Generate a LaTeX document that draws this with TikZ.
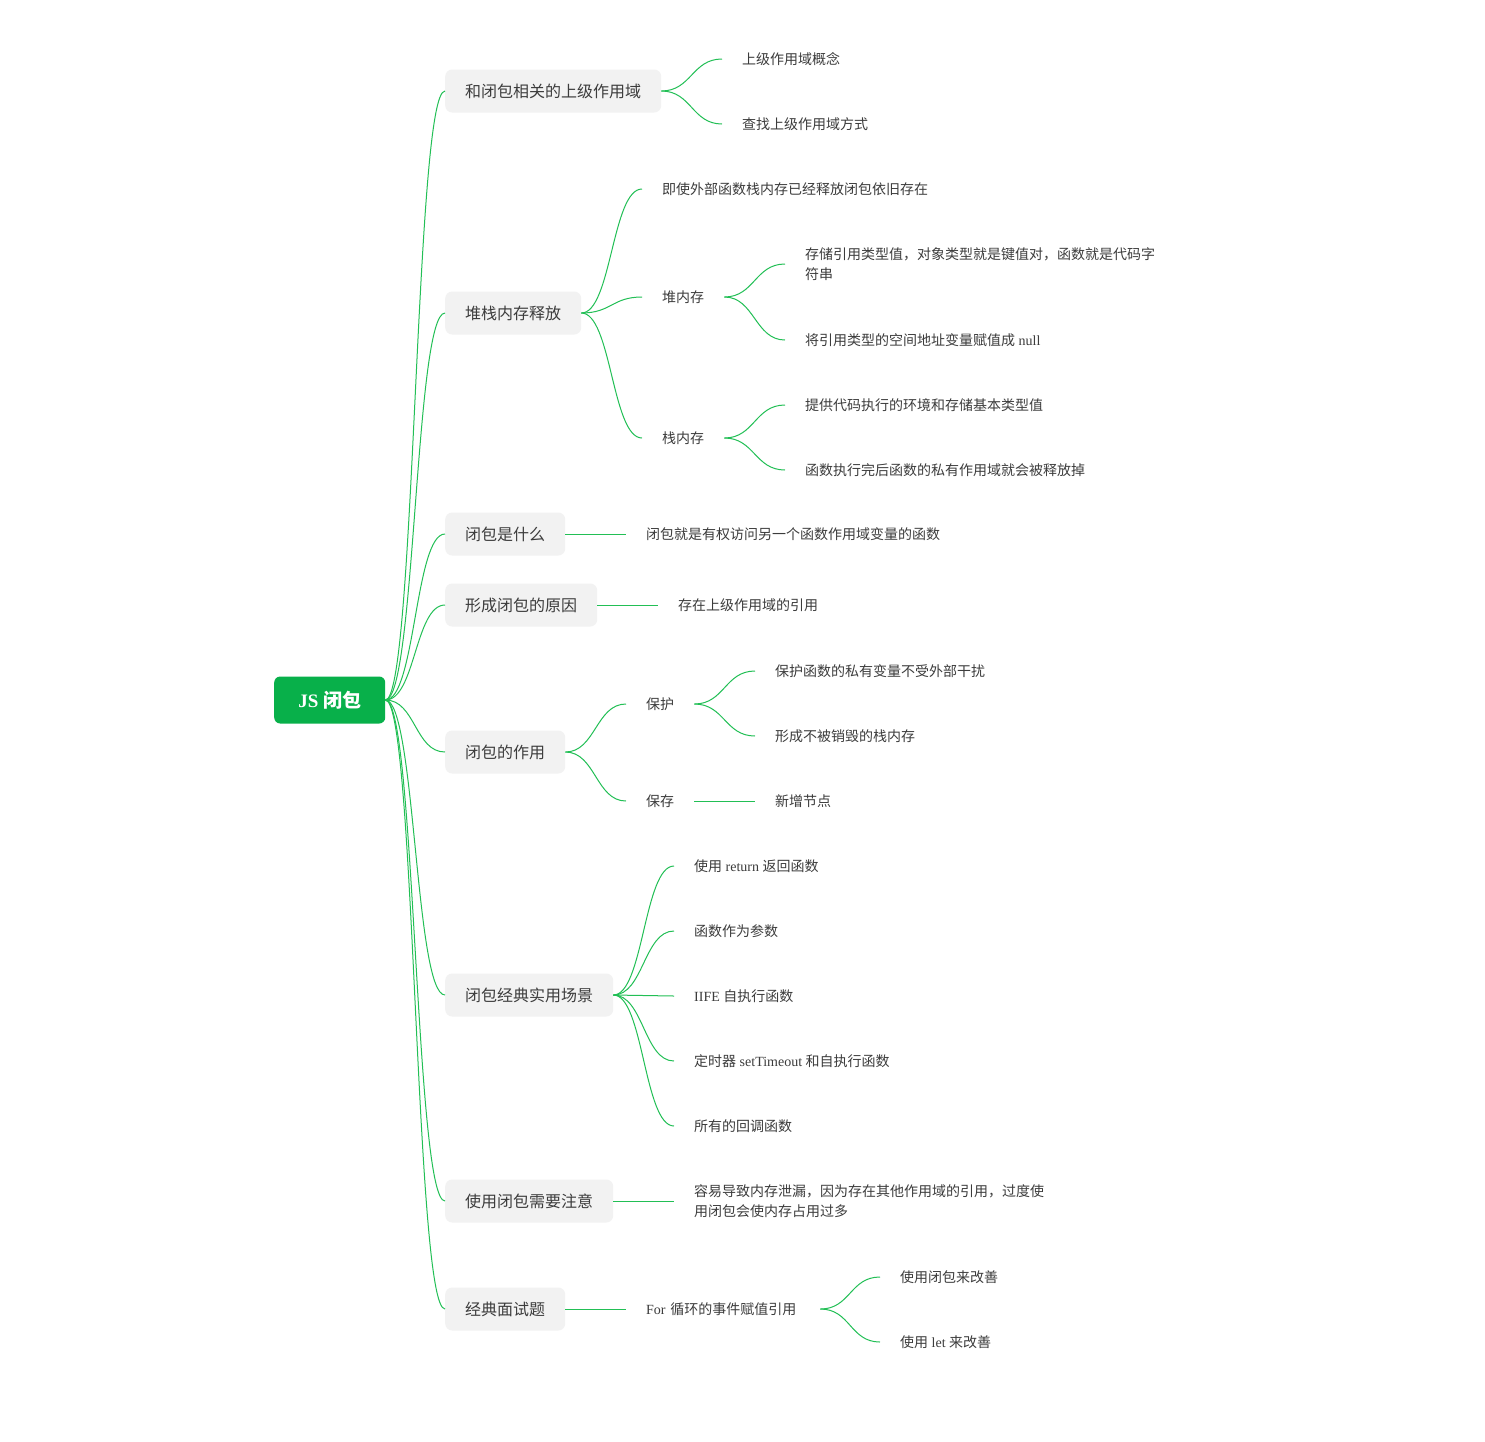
\documentclass[tikz,border=0pt]{standalone}
\usepackage{fontspec}
\setmainfont{Liberation Serif}
\newfontfamily\zh{Noto Sans CJK SC}
\definecolor{rootgreen}{HTML}{08B04A}
\definecolor{linkgreen}{HTML}{22BF55}
\definecolor{boxgray}{HTML}{F2F2F2}
\definecolor{txt}{HTML}{3C3C3C}
\tikzset{
  rootbox/.style={fill=rootgreen, rounded corners=6pt, text=white, inner xsep=20pt, inner ysep=0pt,
    minimum height=47pt, minimum width=111pt, anchor=west, font=\fontsize{19}{22}\selectfont\bfseries},
  lonebox/.style={fill=boxgray, rounded corners=7pt, text=txt, inner xsep=20pt, inner ysep=0pt,
    minimum height=43pt, anchor=west, font=\fontsize{16}{20}\selectfont\zh},
  leaf/.style={text=txt, inner xsep=20pt, inner ysep=2pt, anchor=west, align=left,
    font=\fontsize{14}{20}\selectfont},
  link/.style={draw=linkgreen, line width=1pt},
}
\newcommand\curvelink[2]{\draw[link] (#1.east) .. controls +(30,0) and +(-30,0) .. (#2.west);}
\begin{document}
\begin{tikzpicture}[x=1pt,y=-1pt]
\useasboundingbox[fill=white] (0,0) rectangle (1485,1441);
% root
\node[rootbox] (root) at (274,700) {JS {\zh 闭包}};
% level 1
\node[lonebox] (a1) at (445,91) {和闭包相关的上级作用域};
\node[lonebox] (a2) at (445,313) {堆栈内存释放};
\node[lonebox] (a3) at (445,534) {闭包是什么};
\node[lonebox] (a4) at (445,605) {形成闭包的原因};
\node[lonebox] (a5) at (445,752) {闭包的作用};
\node[lonebox] (a6) at (445,995) {闭包经典实用场景};
\node[lonebox] (a7) at (445,1201) {使用闭包需要注意};
\node[lonebox] (a8) at (445,1309) {经典面试题};
% branch 1
\node[leaf] (a1c1) at (722,59) {\zh 上级作用域概念};
\node[leaf] (a1c2) at (722,124) {\zh 查找上级作用域方式};
% branch 2
\node[leaf] (a2c1) at (642,189) {\zh 即使外部函数栈内存已经释放闭包依旧存在};
\node[leaf] (a2c2) at (642,297) {\zh 堆内存};
\node[leaf] (a2c2c1) at (785,264) {\zh 存储引用类型值，对象类型就是键值对，函数就是代码字\\\zh 符串};
\node[leaf] (a2c2c2) at (785,340) {{\zh 将引用类型的空间地址变量赋值成} null};
\node[leaf] (a2c3) at (642,438) {\zh 栈内存};
\node[leaf] (a2c3c1) at (785,405) {\zh 提供代码执行的环境和存储基本类型值};
\node[leaf] (a2c3c2) at (785,470) {\zh 函数执行完后函数的私有作用域就会被释放掉};
% branch 3, 4
\node[leaf] (a3c1) at (626,534) {\zh 闭包就是有权访问另一个函数作用域变量的函数};
\node[leaf] (a4c1) at (658,605) {\zh 存在上级作用域的引用};
% branch 5
\node[leaf] (a5c1) at (626,704) {\zh 保护};
\node[leaf] (a5c1c1) at (755,671) {\zh 保护函数的私有变量不受外部干扰};
\node[leaf] (a5c1c2) at (755,736) {\zh 形成不被销毁的栈内存};
\node[leaf] (a5c2) at (626,801) {\zh 保存};
\node[leaf] (a5c2c1) at (755,801) {\zh 新增节点};
% branch 6
\node[leaf] (a6c1) at (674,866) {{\zh 使用} return {\zh 返回函数}};
\node[leaf] (a6c2) at (674,931) {\zh 函数作为参数};
\node[leaf] (a6c3) at (674,996) {IIFE {\zh 自执行函数}};
\node[leaf] (a6c4) at (674,1061) {{\zh 定时器} setTimeout {\zh 和自执行函数}};
\node[leaf] (a6c5) at (674,1126) {\zh 所有的回调函数};
% branch 7
\node[leaf] (a7c1) at (674,1201) {\zh 容易导致内存泄漏，因为存在其他作用域的引用，过度使\\\zh 用闭包会使内存占用过多};
% branch 8
\node[leaf, text width=154pt] (a8c1) at (626,1309) {For {\zh 循环的事件赋值引用}};
\node[leaf] (a8c1c1) at (880,1277) {\zh 使用闭包来改善};
\node[leaf] (a8c1c2) at (880,1342) {{\zh 使用} let {\zh 来改善}};
% connectors
\foreach \t in {a1,a2,a3,a4,a5,a6,a7,a8} {\curvelink{root}{\t}}
\curvelink{a1}{a1c1}\curvelink{a1}{a1c2}
\curvelink{a2}{a2c1}\curvelink{a2}{a2c2}\curvelink{a2}{a2c3}
\curvelink{a2c2}{a2c2c1}\curvelink{a2c2}{a2c2c2}
\curvelink{a2c3}{a2c3c1}\curvelink{a2c3}{a2c3c2}
\curvelink{a3}{a3c1}
\curvelink{a4}{a4c1}
\curvelink{a5}{a5c1}\curvelink{a5}{a5c2}
\curvelink{a5c1}{a5c1c1}\curvelink{a5c1}{a5c1c2}
\curvelink{a5c2}{a5c2c1}
\foreach \t in {a6c1,a6c2,a6c3,a6c4,a6c5} {\curvelink{a6}{\t}}
\curvelink{a7}{a7c1}
\curvelink{a8}{a8c1}
\curvelink{a8c1}{a8c1c1}\curvelink{a8c1}{a8c1c2}
\end{tikzpicture}
\end{document}
